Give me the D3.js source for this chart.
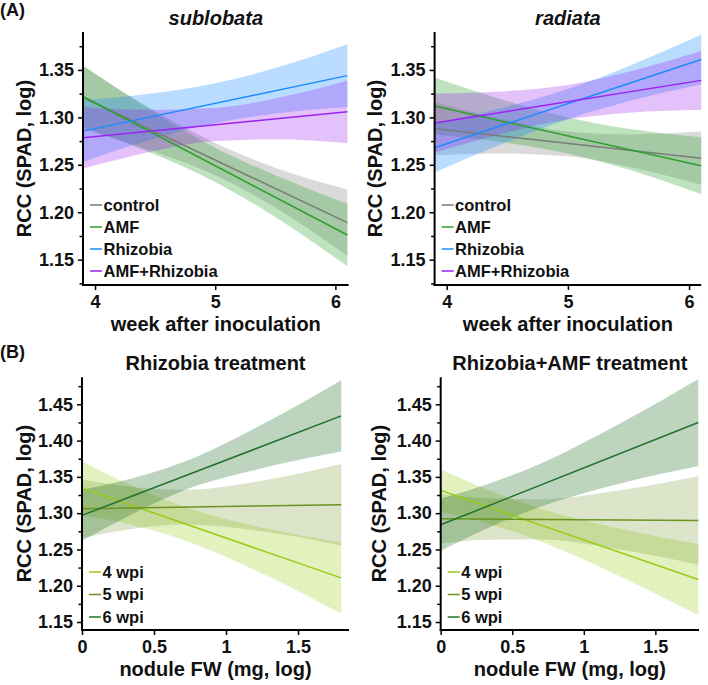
<!DOCTYPE html>
<html>
<head>
<meta charset="utf-8">
<script src="https://cdn.jsdelivr.net/npm/d3@7"></script>
<style>
    body { margin: 0; background: #fff; }
    svg text { font-family: "Liberation Sans", Arial, sans-serif; font-weight: bold; fill: #111; }
</style>
</head>
<body>
<svg width="708" height="685"></svg>
<script>
'use strict';

// ---- panel A : RCC against week, one fit per treatment ----
const treatments = ["control", "AMF", "Rhizobia", "AMF+Rhizobia"];
const treatColors = ["#7b7b7b", "#2ca02c", "#1c8cff", "#9c22f2"];
const weekX = [3.9, 4.4, 5, 5.5, 6.1];
const weekTicks = [4, 5, 6];
const aYTicks = [1.125, 1.15, 1.175, 1.2, 1.225, 1.25, 1.275, 1.3, 1.325, 1.35, 1.375];

// fitted value at first and last week
const subFit = [[1.321, 1.189], [1.322, 1.176], [1.2855, 1.344], [1.2785, 1.306]];
const subLower = [
    [1.288, 1.268, 1.239, 1.205, 1.154],
    [1.289, 1.266, 1.232, 1.195, 1.143],
    [1.253, 1.274, 1.294, 1.304, 1.311],
    [1.246, 1.262, 1.275, 1.277, 1.273]
];
const subUpper = [
    [1.354, 1.314, 1.273, 1.247, 1.224],
    [1.355, 1.313, 1.268, 1.239, 1.209],
    [1.318, 1.324, 1.336, 1.352, 1.377],
    [1.311, 1.308, 1.310, 1.320, 1.339]
];

const radFit = [[1.288, 1.257], [1.312, 1.249], [1.268, 1.361], [1.294, 1.339]];
const radLower = [
    [1.260, 1.262, 1.259, 1.248, 1.229],
    [1.282, 1.275, 1.262, 1.245, 1.219],
    [1.242, 1.269, 1.298, 1.317, 1.335],
    [1.263, 1.281, 1.298, 1.305, 1.308]
];
const radUpper = [
    [1.316, 1.300, 1.285, 1.282, 1.285],
    [1.342, 1.321, 1.300, 1.288, 1.279],
    [1.294, 1.308, 1.330, 1.354, 1.387],
    [1.325, 1.327, 1.334, 1.348, 1.370]
];

// ---- panel B : RCC against nodule FW, one fit per harvest week ----
const wpi = ["4 wpi", "5 wpi", "6 wpi"];
const wpiColors = ["#96cc14", "#6b9420", "#23702c"];
const noduleX = [0, 0.35, 0.7, 1.25, 1.8];
const noduleTicks = [0, 0.5, 1, 1.5];
const bYTicks = [1.15, 1.175, 1.2, 1.225, 1.25, 1.275, 1.3, 1.325, 1.35, 1.375, 1.4, 1.425, 1.45, 1.475];

const rhiFit = [[1.3345, 1.2108], [1.306, 1.3116], [1.297, 1.434]];
const rhiLower = [
    [1.2975, 1.2837, 1.2634, 1.217, 1.1618],
    [1.266, 1.2782, 1.2842, 1.275, 1.2556],
    [1.262, 1.299, 1.331, 1.362, 1.385]
];
const rhiUpper = [
    [1.3715, 1.3373, 1.3094, 1.2802, 1.2598],
    [1.346, 1.336, 1.3322, 1.3448, 1.3676],
    [1.332, 1.348, 1.370, 1.422, 1.483]
];

const bothFit = [[1.3314, 1.2085], [1.2923, 1.290], [1.284, 1.425]];
const bothLower = [
    [1.3022, 1.2844, 1.261, 1.2131, 1.1595],
    [1.2583, 1.2635, 1.2636, 1.2499, 1.229],
    [1.248, 1.2812, 1.3091, 1.3406, 1.365]
];
const bothUpper = [
    [1.3606, 1.3306, 1.3062, 1.2789, 1.2575],
    [1.3263, 1.3203, 1.3192, 1.3315, 1.351],
    [1.320, 1.3416, 1.3685, 1.4232, 1.485]
];

const svg = d3.select("svg");

function panel(p) {
    let x = d3.scaleLinear().domain(p.xDomain).range(p.xRange);
    let y = d3.scaleLinear().domain(p.yDomain).range(p.yRange);
    let g = svg.append("g");
    let xs = p.xs;

    // confidence bands
    let area = d3.area()
        .x(function (d) { return x(d.x); })
        .y0(function (d) { return y(d.lo); })
        .y1(function (d) { return y(d.hi); })
        .curve(d3.curveMonotoneX);

    p.names.forEach(function (name, i) {
        let pts = xs.map(function (v, j) {
            return {x: v, lo: p.lower[i][j], hi: p.upper[i][j]};
        });
        g.append("path")
            .attr("d", area(pts))
            .attr("fill", p.colors[i])
            .attr("fill-opacity", p.bandOpacity[i]);
    });

    // fitted lines
    let line = d3.line()
        .x(function (d) { return x(d[0]); })
        .y(function (d) { return y(d[1]); });

    p.names.forEach(function (name, i) {
        g.append("path")
            .attr("d", line([[xs[0], p.fit[i][0]], [xs[xs.length - 1], p.fit[i][1]]]))
            .attr("fill", "none")
            .attr("stroke", p.colors[i])
            .attr("stroke-width", 1.5);
    });

    // axes
    let yAxis = g.append("g")
        .attr("transform", "translate(" + p.xRange[0] + ",0)")
        .call(d3.axisLeft(y).tickValues(p.yTicks).tickSize(5).tickPadding(4)
            .tickFormat(function (d) {
                return Math.round(d * 1000) % 50 === 0 ? d3.format(".2f")(d) : "";
            }));
    yAxis.selectAll(".tick line")
        .attr("x2", function (d) { return Math.round(d * 1000) % 50 === 0 ? -5 : -3.5; })
        .attr("stroke-width", 1.5);
    yAxis.selectAll(".tick text").style("font-size", "18px");
    yAxis.select(".domain").attr("stroke-width", 2).attr("d",
        "M0," + (p.yRange[0] + 1) + "V" + p.yRange[1]);

    let xAxis = g.append("g")
        .attr("transform", "translate(0," + p.yRange[0] + ")")
        .call(d3.axisBottom(x).tickValues(p.xTicks).tickSize(5).tickPadding(5)
            .tickFormat(d3.format("~g")));
    xAxis.selectAll(".tick line").attr("stroke-width", 1.5);
    xAxis.selectAll(".tick text").style("font-size", "18px");
    xAxis.select(".domain").attr("stroke-width", 2).attr("d",
        "M" + (p.xRange[0] - 1) + ",0H" + p.xRange[1]);

    // titles
    let cx = (p.xRange[0] + p.xRange[1]) / 2;
    g.append("text")
        .attr("x", cx).attr("y", p.yRange[1] - 7)
        .attr("text-anchor", "middle")
        .style("font-size", "20px")
        .style("font-style", p.italic ? "italic" : "normal")
        .text(p.title);

    g.append("text")
        .attr("x", cx).attr("y", p.yRange[0] + 46)
        .attr("text-anchor", "middle")
        .style("font-size", "20px")
        .text(p.xLabel);

    g.append("text")
        .attr("transform", "translate(" + p.yLabelX + "," + ((p.yRange[0] + p.yRange[1]) / 2) + ") rotate(-90)")
        .attr("text-anchor", "middle")
        .style("font-size", "20px")
        .text("RCC (SPAD, log)");

    // legend
    let leg = g.append("g")
        .attr("transform", "translate(" + p.xRange[0] + "," + (p.yRange[0] - p.legendTop) + ")");
    p.names.forEach(function (name, i) {
        let row = leg.append("g").attr("transform", "translate(0," + (i * p.legendStep) + ")");
        row.append("line")
            .attr("x1", 7).attr("x2", 19)
            .attr("stroke", p.colors[i]).attr("stroke-width", 1.5);
        row.append("text")
            .attr("x", 20.5).attr("dy", "0.35em")
            .style("font-size", "16.5px")
            .text(name);
    });
}

panel({
    names: treatments, colors: treatColors, bandOpacity: [0.28, 0.3, 0.3, 0.28],
    xs: weekX, fit: subFit, lower: subLower, upper: subUpper,
    xDomain: [3.9, 6.11], xRange: [83, 348.6], xTicks: weekTicks,
    yDomain: [1.1233, 1.390], yRange: [285, 32], yTicks: aYTicks,
    title: "sublobata", italic: true, xLabel: "week after inoculation", yLabelX: 31,
    legendTop: 80, legendStep: 22
});

panel({
    names: treatments, colors: treatColors, bandOpacity: [0.28, 0.3, 0.3, 0.28],
    xs: weekX, fit: radFit, lower: radLower, upper: radUpper,
    xDomain: [3.9, 6.1], xRange: [434.6, 701.2], xTicks: weekTicks,
    yDomain: [1.1233, 1.390], yRange: [285, 32], yTicks: aYTicks,
    title: "radiata", italic: true, xLabel: "week after inoculation", yLabelX: 382,
    legendTop: 80, legendStep: 22
});

panel({
    names: wpi, colors: wpiColors, bandOpacity: [0.27, 0.24, 0.3],
    xs: noduleX, fit: rhiFit, lower: rhiLower, upper: rhiUpper,
    xDomain: [0, 1.854], xRange: [82, 349], xTicks: noduleTicks,
    yDomain: [1.139, 1.4872], yRange: [630, 377.3], yTicks: bYTicks,
    title: "Rhizobia treatment", italic: false, xLabel: "nodule FW (mg, log)", yLabelX: 31,
    legendTop: 58, legendStep: 22.5
});

panel({
    names: wpi, colors: wpiColors, bandOpacity: [0.27, 0.24, 0.3],
    xs: noduleX, fit: bothFit, lower: bothLower, upper: bothUpper,
    xDomain: [0, 1.805], xRange: [440.7, 699], xTicks: noduleTicks,
    yDomain: [1.139, 1.4872], yRange: [630, 377.3], yTicks: bYTicks,
    title: "Rhizobia+AMF treatment", italic: false, xLabel: "nodule FW (mg, log)", yLabelX: 386,
    legendTop: 58, legendStep: 22.5
});

svg.append("text").attr("x", 0).attr("y", 16).style("font-size", "18px").text("(A)");
svg.append("text").attr("x", 0).attr("y", 358).style("font-size", "18px").text("(B)");
</script>
</body>
</html>
